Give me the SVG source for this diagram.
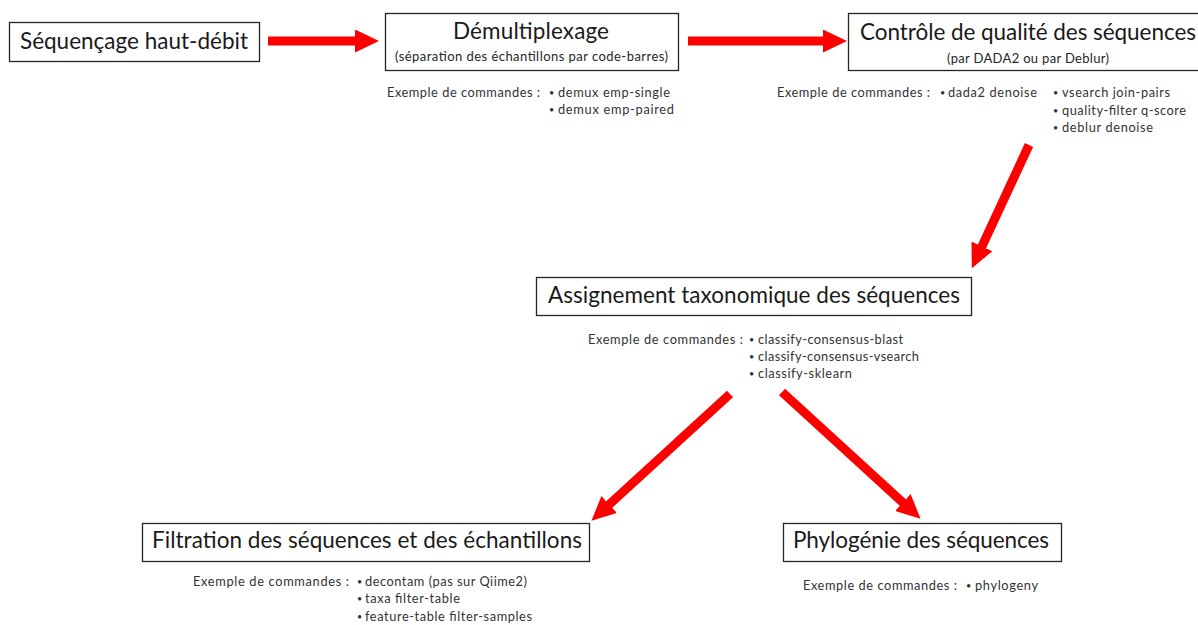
<svg xmlns="http://www.w3.org/2000/svg" width="1198" height="625" viewBox="0 0 1198 625">
<style>
.box{fill:#fff;stroke:#262626;stroke-width:1.3}
.t{font-family:Lato,"Liberation Sans",sans-serif;font-size:22.5px;fill:#1a1a1a}
.s{font-family:Lato,"Liberation Sans",sans-serif;font-size:13px;fill:#262626}
.c{font-family:Lato,"Liberation Sans",sans-serif;font-size:12.8px;fill:#333}
.b{font-family:Lato,"Liberation Sans",sans-serif;font-size:9px;fill:#333}
.arr{stroke:#ff0000;stroke-width:9;fill:none;marker-end:url(#ah)}
</style>
<defs>
<marker id="ah" markerUnits="userSpaceOnUse" viewBox="0 0 24 23" refX="1" refY="11.5" markerWidth="24" markerHeight="23" orient="auto">
<path d="M0,0 L24,11.5 L0,23 z" fill="#ff0000"/>
</marker>
</defs>
<rect width="1198" height="625" fill="#fff"/>
<g id="connectors">
<path class="arr" d="M268,41 L356,41"/>
<path class="arr" d="M688,41 L824,41"/>
<path class="arr" d="M1029,145 L981.5,247.3"/>
<path class="arr" d="M730,394 L608.4,505.2"/>
<path class="arr" d="M782,392 L903.6,503.2"/>
</g>
<g id="n1">
<rect class="box" x="9.5" y="22.5" width="250" height="39"/>
<text class="t" x="20" y="49" textLength="228">Séquençage haut-débit</text>
</g>
<g id="n2">
<rect class="box" x="385.5" y="13.5" width="293" height="57"/>
<text class="t" x="453" y="39" textLength="156">Démultiplexage</text>
<text class="s" x="395" y="61" textLength="273">(séparation des échantillons par code-barres)</text>
<text class="c" x="387" y="97" textLength="153">Exemple de commandes :</text>
<text class="b" x="549" y="96">•</text>
<text class="c" x="558" y="97" textLength="112">demux emp-single</text>
<text class="b" x="549" y="113">•</text>
<text class="c" x="558" y="114" textLength="116">demux emp-paired</text>
</g>
<g id="n3">
<rect class="box" x="848.5" y="13.5" width="400" height="57"/>
<text class="t" x="860" y="40" textLength="336">Contrôle de qualité des séquences</text>
<text class="s" x="947" y="63" textLength="162">(par DADA2 ou par Deblur)</text>
<text class="c" x="777" y="97" textLength="153">Exemple de commandes :</text>
<text class="b" x="940" y="96">•</text>
<text class="c" x="948" y="97" textLength="89">dada2 denoise</text>
<text class="b" x="1053" y="96">•</text>
<text class="c" x="1062" y="97" textLength="108">vsearch join-pairs</text>
<text class="b" x="1053" y="114">•</text>
<text class="c" x="1062" y="115" textLength="124">quality-filter q-score</text>
<text class="b" x="1053" y="131">•</text>
<text class="c" x="1062" y="132" textLength="91">deblur denoise</text>
</g>
<g id="n4">
<rect class="box" x="536.5" y="277.5" width="435" height="38"/>
<text class="t" x="548" y="303" textLength="412">Assignement taxonomique des séquences</text>
<text class="c" x="588" y="344" textLength="155">Exemple de commandes :</text>
<text class="b" x="749" y="343">•</text>
<text class="c" x="758" y="344" textLength="145">classify-consensus-blast</text>
<text class="b" x="749" y="360">•</text>
<text class="c" x="758" y="361" textLength="161">classify-consensus-vsearch</text>
<text class="b" x="749" y="377">•</text>
<text class="c" x="758" y="378" textLength="94">classify-sklearn</text>
</g>
<g id="n5">
<rect class="box" x="142.5" y="523.5" width="447" height="38"/>
<text class="t" x="152" y="548" textLength="430">Filtration des séquences et des échantillons</text>
<text class="c" x="193" y="586" textLength="156">Exemple de commandes :</text>
<text class="b" x="357" y="585">•</text>
<text class="c" x="365" y="586" textLength="162">decontam (pas sur Qiime2)</text>
<text class="b" x="357" y="602">•</text>
<text class="c" x="365" y="603" textLength="95">taxa filter-table</text>
<text class="b" x="357" y="620">•</text>
<text class="c" x="365" y="621" textLength="167">feature-table filter-samples</text>
</g>
<g id="n6">
<rect class="box" x="783.5" y="523.5" width="278" height="38"/>
<text class="t" x="793" y="548" textLength="256">Phylogénie des séquences</text>
<text class="c" x="803" y="590" textLength="154">Exemple de commandes :</text>
<text class="b" x="966" y="589">•</text>
<text class="c" x="975" y="590" textLength="63">phylogeny</text>
</g>
</svg>
